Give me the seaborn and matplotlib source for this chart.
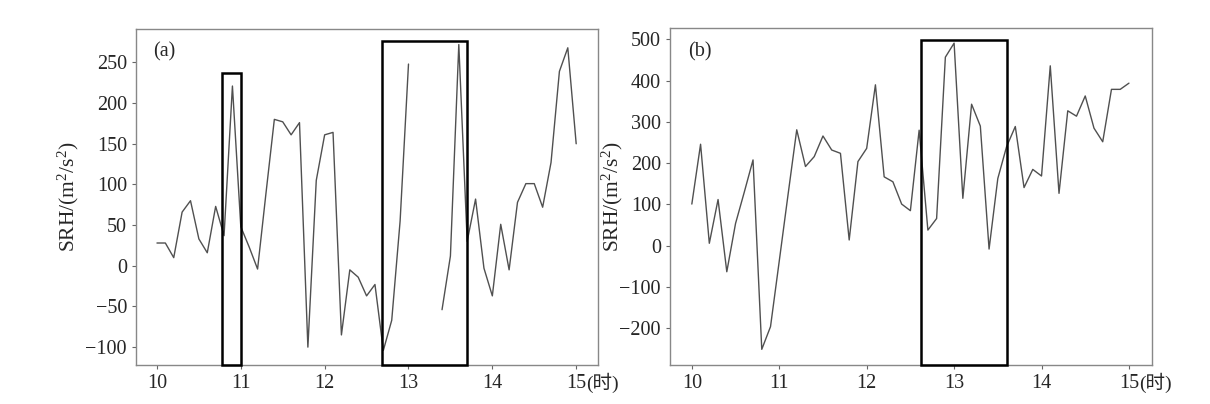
import numpy as np
import pandas as pd
import matplotlib
matplotlib.use("Agg")
import matplotlib.pyplot as plt
import seaborn as sns
from matplotlib.patches import Rectangle

# time grid: 10:00 - 15:00 every 6 minutes
hours = np.round(np.arange(100, 151) / 10, 1)

srh_a = [28, 28, 10, 66, 80, 33, 16, 73, 37, 221,
         48, 23, -4, 89, 180, 177, 161, 176, -100, 105,
         161, 164, -85, -5, -14, -37, -23, -104, -67, 55,
         248, np.nan, np.nan, np.nan, -54, 12, 272, 30, 82, -3,
         -37, 51, -5, 78, 101, 101, 72, 127, 239, 268,
         150]

srh_b = [101, 246, 6, 112, -63, 54, 130, 208, -251, -196,
         -37, 123, 281, 192, 216, 266, 232, 224, 14, 204,
         236, 390, 167, 155, 101, 85, 280, 38, 66, 457,
         491, 115, 343, 290, -8, 163, 240, 289, 141, 185,
         169, 436, 127, 327, 314, 363, 285, 252, 379, 379,
         394]

# highlighted periods: (x0, x1, y0, y1)
boxes_a = [(10.78, 11.0, -122, 237), (12.68, 13.70, -122, 276)]
boxes_b = [(12.62, 13.60, -289, 499)]

panels = [
    ("(a)", srh_a, boxes_a, (-122, 291), [-100, -50, 0, 50, 100, 150, 200, 250]),
    ("(b)", srh_b, boxes_b, (-289, 527), [-200, -100, 0, 100, 200, 300, 400, 500]),
]

sns.set_style("ticks")
plt.rcParams['font.family'] = ['Liberation Serif', 'Noto Sans CJK SC']
plt.rcParams['mathtext.fontset'] = 'custom'
plt.rcParams['mathtext.rm'] = 'Liberation Serif'
plt.rcParams['mathtext.it'] = 'Liberation Serif:italic'
plt.rcParams['axes.unicode_minus'] = True

fig = plt.figure(figsize=(12.1, 4.04), dpi=100)
positions = [[0.1124, 0.0965, 0.3818, 0.8315], [0.5537, 0.0965, 0.3981, 0.8335]]
labelpads = [3, -4]

for (tag, vals, boxes, ylim, yticks), pos, lp in zip(panels, positions, labelpads):
    ax = fig.add_axes(pos)
    df = pd.DataFrame({"t": hours, "srh": vals})
    df["seg"] = df["srh"].isna().cumsum()
    df = df.dropna()
    sns.lineplot(data=df, x="t", y="srh", units="seg", estimator=None,
                 color="#505050", linewidth=1.0, ax=ax)
    for x0, x1, y0, y1 in boxes:
        ax.add_patch(Rectangle((x0, y0), x1 - x0, y1 - y0, fill=False,
                               edgecolor="black", linewidth=1.8, zorder=3,
                               clip_on=False))
    ax.set_xlim(9.75, 15.26)
    ax.set_ylim(*ylim)
    ax.set_xticks([10, 11, 12, 13, 14, 15])
    ax.set_xticklabels(["10", "11", "12", "13", "14", "15"])
    ax.set_yticks(yticks)
    ax.tick_params(labelsize=14.5, length=3, width=0.8, color="#666666", pad=3.5)
    for s in ax.spines.values():
        s.set_color("#888888")
        s.set_linewidth(1.0)
    ax.set_xlabel("")
    ax.set_ylabel("SRH/(m$^{2}$/s$^{2}$)", fontsize=15.5, labelpad=lp)
    ax.text(0.037, 0.96, tag, transform=ax.transAxes, fontsize=14.5,
            ha="left", va="top")
    ax.annotate("(时)", xy=(15, 0), xycoords=ax.get_xaxis_transform(),
                xytext=(7.5, -17.5), textcoords="offset points",
                ha="left", va="baseline", fontsize=14)

fig.savefig("out.png", dpi=100, facecolor="white")
